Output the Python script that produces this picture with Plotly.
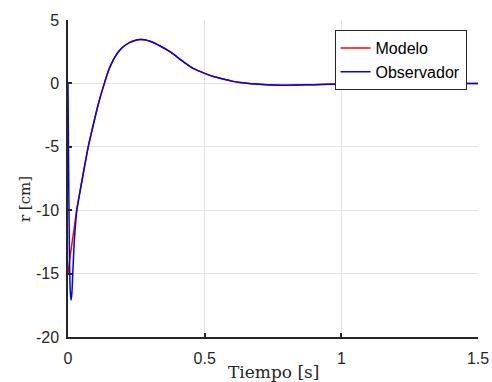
import plotly.graph_objects as go

# Modelo (red)
t_modelo = [0, 0.008, 0.016, 0.024, 0.032, 0.045, 0.06, 0.074, 0.09, 0.11, 0.133,
            0.148, 0.16, 0.172, 0.187, 0.202, 0.225, 0.251, 0.263, 0.28, 0.30,
            0.337, 0.373, 0.422, 0.458, 0.50, 0.535, 0.568, 0.60, 0.629, 0.69,
            0.73, 0.78, 0.84, 0.90, 1.0, 1.1, 1.2, 1.3, 1.4, 1.5]
r_modelo = [-15.0, -13.6, -12.4, -11.2, -10.0, -8.4, -6.6, -5.0, -3.5, -1.7, 0.0,
            1.0, 1.6, 2.1, 2.55, 2.89, 3.22, 3.42, 3.47, 3.44, 3.32,
            2.95, 2.5, 1.71, 1.18, 0.79, 0.52, 0.34, 0.18, 0.08, -0.05,
            -0.11, -0.14, -0.13, -0.10, -0.05, -0.02, -0.01, 0.0, 0.0, 0.0]

# Observador (blue) - initial transient, then coincides with the model
t_obs_ini = [0, 0.002, 0.005, 0.008, 0.011, 0.014, 0.017, 0.020, 0.023, 0.028]
r_obs_ini = [0.0, -6.0, -13.0, -16.3, -17.1, -16.6, -15.2, -13.8, -12.4, -11.0]
t_observador = t_obs_ini + t_modelo[4:]
r_observador = r_obs_ini + r_modelo[4:]

x_ticks = [0, 0.5, 1, 1.5]
x_ticklabels = ["0", "0.5", "1", "1.5"]
y_ticks = [-20, -15, -10, -5, 0, 5]
y_ticklabels = ["-20", "-15", "-10", "-5", "0", "5"]

fig = go.Figure()
fig.add_trace(go.Scatter(x=t_modelo, y=r_modelo, mode="lines", name="Modelo",
                         line=dict(color="#ff0000", width=1.5, shape="spline", smoothing=0.6)))
fig.add_trace(go.Scatter(x=t_observador, y=r_observador, mode="lines", name="Observador",
                         line=dict(color="#0000ff", width=1.5, shape="spline", smoothing=0.6)))

axis_common = dict(showgrid=True, gridcolor="#e3e3e3", gridwidth=1,
                   showline=True, linecolor="#262626", linewidth=1.5,
                   ticks="inside", ticklen=4, tickcolor="#262626", tickwidth=1.5,
                   zeroline=False, mirror=False, automargin=False,
                   tickfont=dict(family="Liberation Sans, Arial", size=16, color="#262626"))

fig.update_xaxes(range=[0, 1.5], tickvals=x_ticks, ticktext=x_ticklabels,
                 ticklabelstandoff=6, **axis_common)
fig.update_yaxes(range=[-20, 5], tickvals=y_ticks, ticktext=y_ticklabels,
                 ticklabelstandoff=4, **axis_common)

fig.add_annotation(text="Tiempo [s]", xref="paper", yref="paper", x=0.5, y=0,
                   xanchor="center", yanchor="top", yshift=-23, showarrow=False,
                   font=dict(family="DejaVu Serif, Liberation Serif", size=17, color="#262626"))
fig.add_annotation(text="r [cm]", xref="paper", yref="paper", x=0, y=0.435,
                   xanchor="center", yanchor="middle", xshift=-43, textangle=-90,
                   showarrow=False, font=dict(family="DejaVu Serif, Liberation Serif",
                                              size=15, color="#262626"))

fig.update_layout(
    width=492, height=382,
    margin=dict(l=68, r=14, t=20, b=45),
    plot_bgcolor="white", paper_bgcolor="white",
    showlegend=True,
    legend=dict(x=0.972, y=0.968, xanchor="right", yanchor="top",
                bgcolor="white", bordercolor="#262626", borderwidth=1,
                font=dict(family="Liberation Sans, Arial", size=16, color="#000000"),
                tracegroupgap=0),
)

fig.write_html("out.html")
